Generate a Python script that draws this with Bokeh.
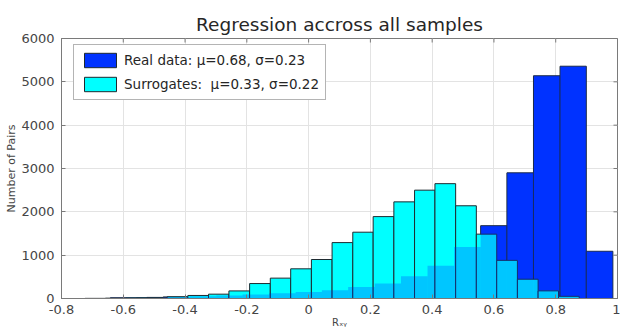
import math
from bokeh.plotting import figure
from bokeh.models import (ColumnDataSource, Legend, LegendItem, FixedTicker, Range1d)
from bokeh.embed import file_html
from bokeh.resources import INLINE

# ---------------- data ----------------
title_text = "Regression accross all samples"
real_label = "Real data: μ=0.68, σ=0.23"
surr_label = "Surrogates:  μ=0.33, σ=0.22"
y_label = "Number of Pairs"
x_label = "Rₓᵧ"

real_edges = [-0.642, -0.557, -0.471, -0.385, -0.299, -0.214, -0.128, -0.042, 0.043,
              0.128, 0.214, 0.299, 0.385, 0.471, 0.557, 0.642, 0.728, 0.814, 0.899, 0.985]
real_counts = [15, 20, 35, 50, 70, 95, 120, 150, 190, 265, 345, 515, 755, 1190, 1680,
               2900, 5140, 5360, 1090]

surr_edges = [-0.724, -0.658, -0.591, -0.524, -0.458, -0.391, -0.324, -0.258, -0.191,
              -0.124, -0.058, 0.009, 0.076, 0.143, 0.209, 0.276, 0.343, 0.409, 0.476,
              0.543, 0.609, 0.676, 0.743, 0.809, 0.876]
surr_counts = [3, 8, 15, 25, 40, 70, 100, 175, 345, 470, 685, 900, 1290, 1530, 1890,
               2230, 2500, 2650, 2140, 1485, 880, 445, 176, 50]

x_ticks = [-0.8, -0.6, -0.4, -0.2, 0.0, 0.2, 0.4, 0.6, 0.8, 1.0]
x_tick_labels = ["-0.8", "-0.6", "-0.4", "-0.2", "0", "0.2", "0.4", "0.6", "0.8", "1"]
y_ticks = [0, 1000, 2000, 3000, 4000, 5000, 6000]
y_tick_labels = ["0", "1000", "2000", "3000", "4000", "5000", "6000"]

# ---------------- styling ----------------
FONT = "DejaVu Sans"
BLUE = "#0033ff"
CYAN = "#00ffff"
EDGE = "#1e2a30"
TXT = "#454545"
AXC = "#7a7a7a"

X_MIN, X_MAX = x_ticks[0], x_ticks[-1]
Y_MIN, Y_MAX = y_ticks[0], y_ticks[-1]

real_src = ColumnDataSource(dict(left=real_edges[:-1], right=real_edges[1:], top=real_counts))
surr_src = ColumnDataSource(dict(left=surr_edges[:-1], right=surr_edges[1:], top=surr_counts))

p = figure(width=620, height=333, x_range=Range1d(X_MIN, X_MAX), y_range=Range1d(Y_MIN, Y_MAX),
           output_backend="svg", toolbar_location=None,
           min_border_left=61, min_border_right=3, min_border_top=38, min_border_bottom=35)
p.background_fill_color = "white"
p.border_fill_color = "white"
p.outline_line_color = AXC

p.title.text = title_text
p.title.align = "center"
p.title.text_font = FONT
p.title.text_font_size = "18.5px"
p.title.text_font_style = "normal"
p.title.text_color = "#262626"
p.title.standoff = 8

# bars: blue opaque, cyan opaque, then a translucent blue wash on top to mimic overlap colour
r_blue = p.quad(left="left", right="right", top="top", bottom=0, source=real_src,
                fill_color=BLUE, line_color=EDGE, line_width=1)
r_cyan = p.quad(left="left", right="right", top="top", bottom=0, source=surr_src,
                fill_color=CYAN, line_color=EDGE, line_width=1)
p.quad(left="left", right="right", top="top", bottom=0, source=real_src,
       fill_color=BLUE, fill_alpha=0.28, line_alpha=0)

def style_axis(ax, ticks, labels):
    ax.ticker = FixedTicker(ticks=ticks)
    ax.major_label_overrides = {t: l for t, l in zip(ticks, labels)}
    ax.major_tick_in = 4
    ax.major_tick_out = 0
    ax.minor_tick_line_color = None
    ax.axis_line_color = AXC
    ax.major_tick_line_color = AXC
    ax.major_label_text_font = FONT
    ax.major_label_text_font_size = "13px"
    ax.major_label_text_color = TXT
    ax.axis_label_text_font = FONT
    ax.axis_label_text_font_style = "normal"
    ax.axis_label_text_color = TXT
    ax.axis_label_standoff = 0

style_axis(p.xaxis[0], x_ticks, x_tick_labels)
p.xaxis[0].major_label_standoff = 6
p.xaxis[0].axis_label = x_label
p.xaxis[0].axis_label_text_font_size = "10px"

style_axis(p.yaxis[0], y_ticks, y_tick_labels)
p.yaxis[0].major_label_standoff = 7
p.yaxis[0].axis_label = y_label
p.yaxis[0].axis_label_text_font_size = "11px"

# inward tick marks on the top and right edges of the box (half of each dash is clipped)
p.scatter(x=x_ticks, y=[Y_MAX] * len(x_ticks), marker="dash", angle=math.pi / 2, size=8,
          line_color=AXC, line_width=1)
p.scatter(x=[X_MAX] * len(y_ticks), y=y_ticks, marker="dash", size=8,
          line_color=AXC, line_width=1)

p.xgrid.ticker = FixedTicker(ticks=x_ticks)
p.ygrid.ticker = FixedTicker(ticks=y_ticks)
p.grid.grid_line_color = "#e3e3e3"
p.grid.grid_line_width = 1

legend = Legend(items=[LegendItem(label=real_label, renderers=[r_blue]),
                       LegendItem(label=surr_label, renderers=[r_cyan])],
                location=(12, 198), margin=0, padding=6, spacing=6,
                glyph_width=40, glyph_height=18, label_height=18, label_standoff=4,
                label_text_font=FONT, label_text_font_size="13.5px",
                label_text_color="#262626",
                border_line_color="#6a6a6a", border_line_width=1,
                background_fill_color="white", background_fill_alpha=1)
p.add_layout(legend, "center")

open("out.html", "w").write(file_html(p, INLINE))
